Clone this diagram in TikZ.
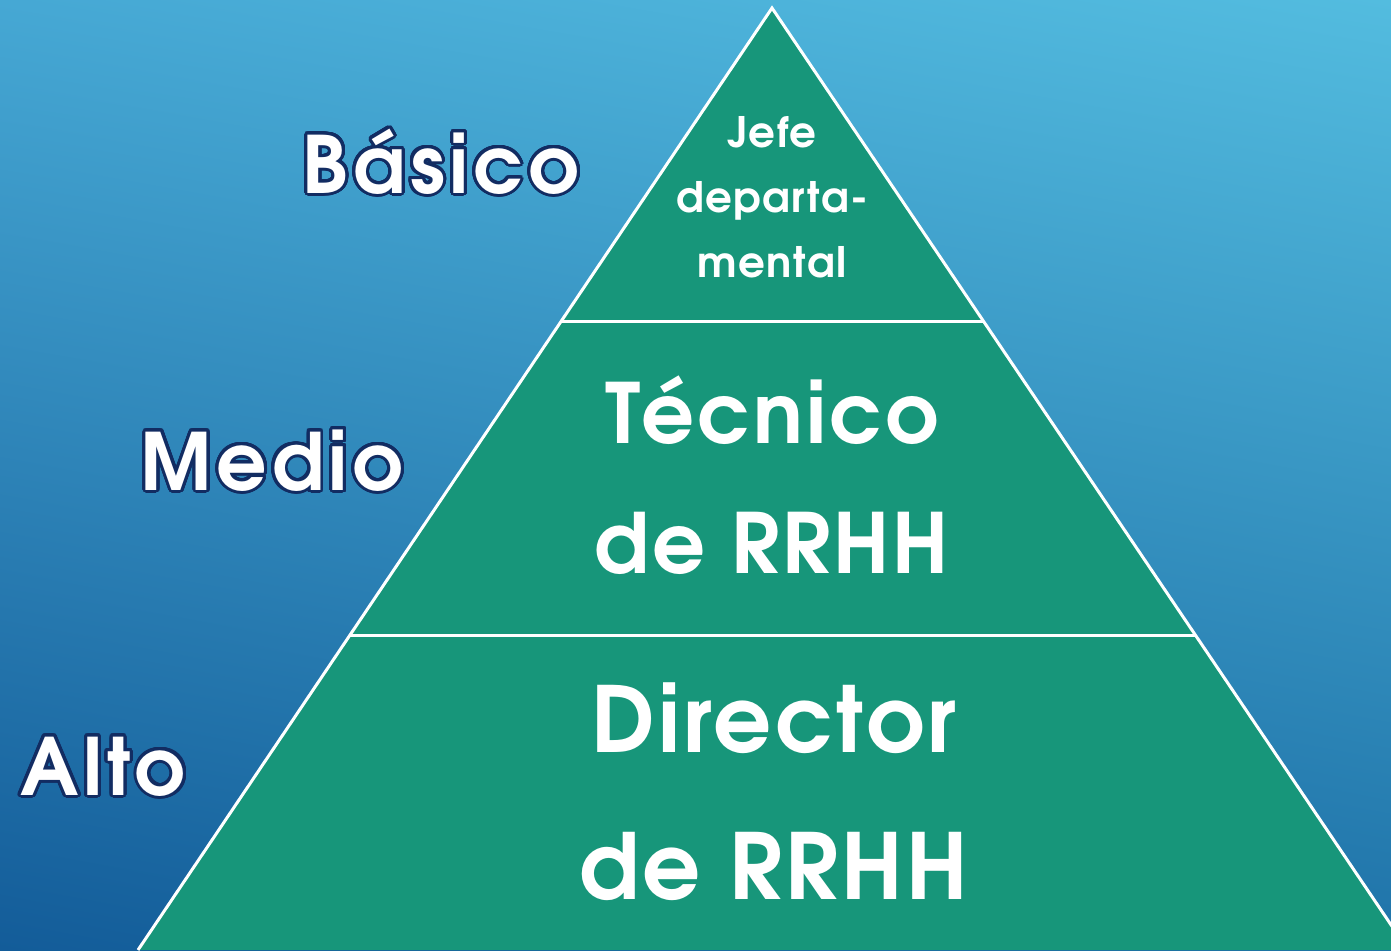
\documentclass[tikz,border=0pt]{standalone}
\usepackage{fontspec}
\setmainfont{TeX Gyre Adventor}
\newfontfamily\lblfont{TeX Gyre Adventor}[LetterSpace=6]
\newfontfamily\pyrfont{TeX Gyre Adventor}[LetterSpace=3.5]
\usepackage{contour}
\usetikzlibrary{shadings}
\contourlength{3pt}
\contournumber{40}
\definecolor{bgTL}{HTML}{46A8D4}
\definecolor{bgTR}{HTML}{53BCDF}
\definecolor{bgBL}{HTML}{135C99}
\definecolor{bgBR}{HTML}{1F73A9}
\definecolor{pyr}{HTML}{17967A}
\definecolor{navyline}{HTML}{122C62}
\tikzset{
  lvl/.style={anchor=base, inner sep=0pt, text=white, font=\lblfont\bfseries\fontsize{79}{90}\selectfont},
  inlabel/.style={anchor=base, inner sep=0pt, text=white, align=center},
  edge/.style={white, line width=3pt}
}
\begin{document}
\begin{tikzpicture}[x=1pt,y=-1pt]
\useasboundingbox (0,0) rectangle (1391,950);
\shade[upper left=bgTL, upper right=bgTR, lower left=bgBL, lower right=bgBR] (0,0) rectangle (1391,950);
\begin{scope}
\clip (0,0) rectangle (1391,950);
\coordinate (apex) at (772,8);
\coordinate (bl) at (138,950);
\coordinate (br) at (1408,950);
\coordinate (l1) at (561.3,321);
\coordinate (r1) at (983.3,321);
\coordinate (l2) at (350,635);
\coordinate (r2) at (1195.4,635);
\fill[pyr] (apex) -- (br) -- (bl) -- cycle;
\draw[edge] (bl) -- (apex) -- (br);
\draw[edge] (l1) -- (r1);
\draw[edge] (l2) -- (r2);
\end{scope}
\node[lvl] (basico) at (441,193) {\contour{navyline}{Básico}};
\node[lvl] (medio) at (272,490) {\contour{navyline}{Medio}};
\node[lvl] (alto) at (103,795) {\contour{navyline}{Alto}};
\node[inlabel, font=\pyrfont\bfseries\fontsize{42}{65}\selectfont] (jefe) at (772,277) {Jefe\\departa-\\mental};
\node[inlabel, font=\pyrfont\bfseries\fontsize{83}{130}\selectfont] (tecnico) at (772,573) {Técnico\\de RRHH};
\node[inlabel, font=\pyrfont\bfseries\fontsize{91}{147}\selectfont] (director) at (774,899) {Director\\de RRHH};
\end{tikzpicture}
\end{document}
